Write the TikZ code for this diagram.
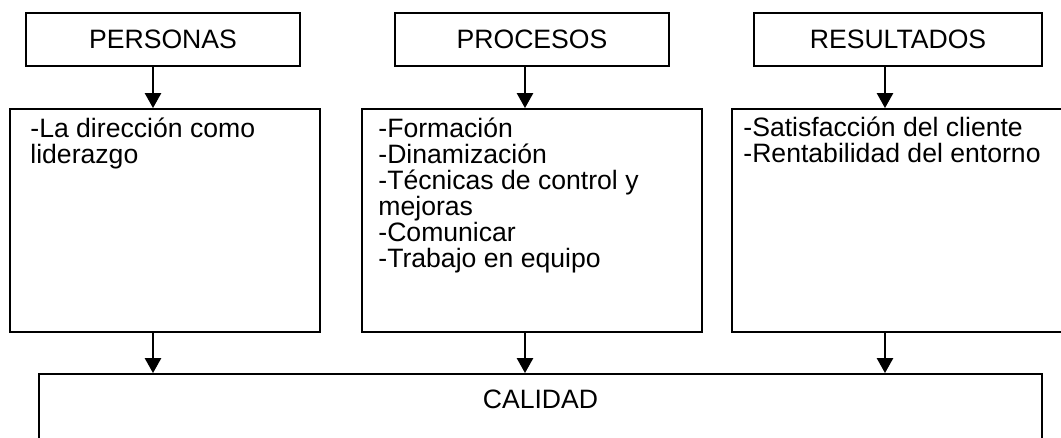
\documentclass[tikz,border=0pt]{standalone}
\usepackage{fontspec}
\setmainfont{Liberation Sans}
\usetikzlibrary{arrows.meta, positioning, calc}
\tikzstyle{head} = [rectangle, minimum height=26.5pt, text centered, draw=black, line width=0.9pt, inner sep=0pt]
\tikzstyle{panel} = [rectangle, minimum height=111.5pt, draw=black, line width=0.9pt, inner sep=0pt]
\tikzstyle{items} = [anchor=north west, align=left, inner sep=0pt]
\tikzstyle{arrow} = [line width=1.25pt, -{Triangle[length=7.5pt, width=8pt]}]

\begin{document}
\begin{tikzpicture}[x=0.5pt, y=-0.5pt, font=\fontsize{13.3}{13}\selectfont]
\useasboundingbox (0,0) rectangle (1061,438);
\clip (0,0) rectangle (1061,438);
% column positions of the arrows
\coordinate (c1) at (153,0);
\coordinate (c2) at (525,0);
\coordinate (c3) at (885,0);

\node (personas) [head, minimum width=137pt] at (163,39.5) {PERSONAS};
\node (procesos) [head, minimum width=137pt] at (532,39.5) {PROCESOS};
\node (resultados) [head, minimum width=144pt] at (898,39.5) {RESULTADOS};

\node (direccion) [panel, minimum width=155pt] at (165,220.5) {};
\node (formacion) [panel, minimum width=170pt] at (532,220.5) {};
\node (satisfaccion) [panel, minimum width=179pt] at (911,220.5) {};

\node (direcciontxt) [items] at (30,117) {\rule{0pt}{10pt}-La dirección como\\liderazgo};
\node (formaciontxt) [items] at (378,117) {\rule{0pt}{10pt}-Formación\\-Dinamización\\-Técnicas de control y\\mejoras\\-Comunicar\\-Trabajo en equipo};
\node (satisfacciontxt) [items] at (743,116) {\rule{0pt}{10pt}-Satisfacción del cliente\\-Rentabilidad del entorno};

\node (calidad) [panel, minimum width=501.5pt, minimum height=53pt] at (540.5,427) {};
\node (calidadtxt) [inner sep=0pt] at (540.5,399) {CALIDAD};

\draw [arrow] (personas.south -| c1) -- (direccion.north -| c1);
\draw [arrow] (procesos.south -| c2) -- (formacion.north -| c2);
\draw [arrow] (resultados.south -| c3) -- (satisfaccion.north -| c3);
\draw [arrow] (direccion.south -| c1) -- (calidad.north -| c1);
\draw [arrow] (formacion.south -| c2) -- (calidad.north -| c2);
\draw [arrow] (satisfaccion.south -| c3) -- (calidad.north -| c3);
\end{tikzpicture}
\end{document}
